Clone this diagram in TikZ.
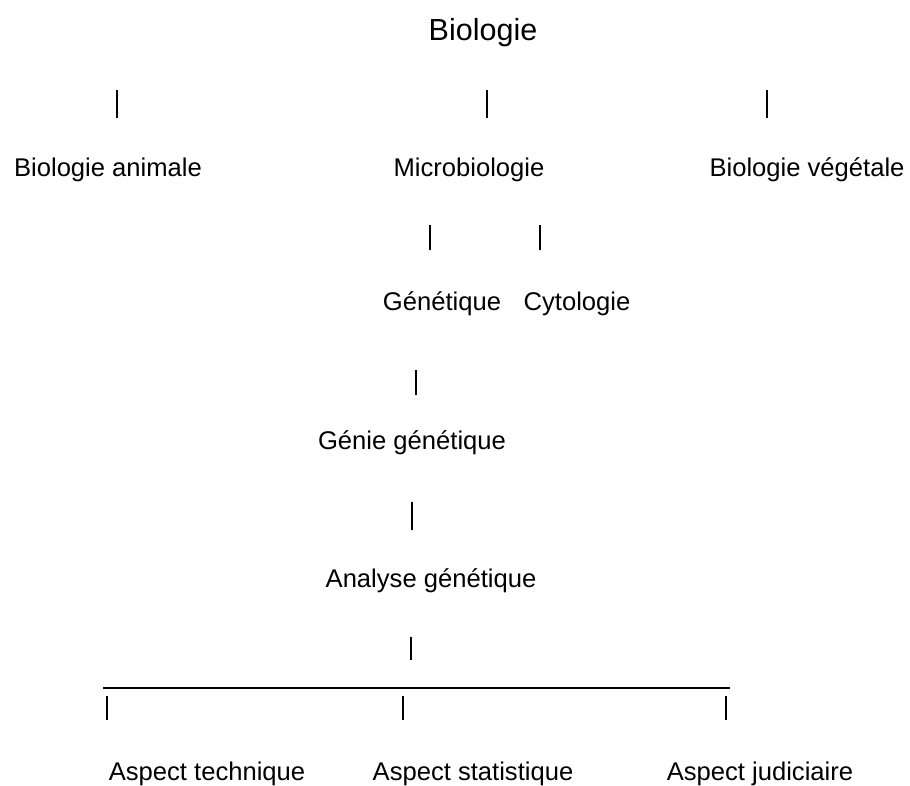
\documentclass[tikz,border=0pt]{standalone}
\usepackage{fontspec}
\setmainfont{Liberation Sans}
\begin{document}
\begin{tikzpicture}[x=1pt,y=-1pt,
  lbl/.style={inner sep=0pt,anchor=base,font=\fontsize{25.6}{30}\selectfont},
  ttl/.style={inner sep=0pt,anchor=base,font=\fontsize{30.5}{36}\selectfont},
  bar/.style={line width=1.4pt},
  hbar/.style={line width=2.6pt}]
\useasboundingbox (0,0) rectangle (910,785);
\node[ttl] (bio) at (483,40) {Biologie};
\node[lbl] (anim) at (108,176) {Biologie animale};
\node[lbl] (micro) at (469,176) {Microbiologie};
\node[lbl] (veg) at (807,176) {Biologie végétale};
\node[lbl] (gen) at (442,310) {Génétique};
\node[lbl] (cyto) at (577,310) {Cytologie};
\node[lbl] (genie) at (412,449) {Génie génétique};
\node[lbl] (ana) at (431,587) {Analyse génétique};
\node[lbl] (tech) at (207,780) {Aspect technique};
\node[lbl] (stat) at (473,780) {Aspect statistique};
\node[lbl] (jud) at (760,780) {Aspect judiciaire};
% bar coordinates
\coordinate (a1) at (117,90); \coordinate (a2) at (117,118);
\coordinate (b1) at (487,90); \coordinate (b2) at (487,118);
\coordinate (c1) at (767,90); \coordinate (c2) at (767,118);
\coordinate (d1) at (430,225); \coordinate (d2) at (430,250);
\coordinate (e1) at (540,225); \coordinate (e2) at (540,250);
\coordinate (f1) at (416,370); \coordinate (f2) at (416,395);
\coordinate (g1) at (412,502); \coordinate (g2) at (412,530);
\coordinate (h1) at (411,637); \coordinate (h2) at (411,660);
\coordinate (hl) at (103,688); \coordinate (hr) at (730,688);
\coordinate (i1) at (107,696); \coordinate (i2) at (107,720);
\coordinate (j1) at (403,696); \coordinate (j2) at (403,720);
\coordinate (k1) at (726,696); \coordinate (k2) at (726,720);
\draw[bar] (a1) -- (a2);
\draw[bar] (b1) -- (b2);
\draw[bar] (c1) -- (c2);
\draw[bar] (d1) -- (d2);
\draw[bar] (e1) -- (e2);
\draw[bar] (f1) -- (f2);
\draw[bar] (g1) -- (g2);
\draw[bar] (h1) -- (h2);
\draw[hbar] (hl) -- (hr);
\draw[bar] (i1) -- (i2);
\draw[bar] (j1) -- (j2);
\draw[bar] (k1) -- (k2);
\end{tikzpicture}
\end{document}
